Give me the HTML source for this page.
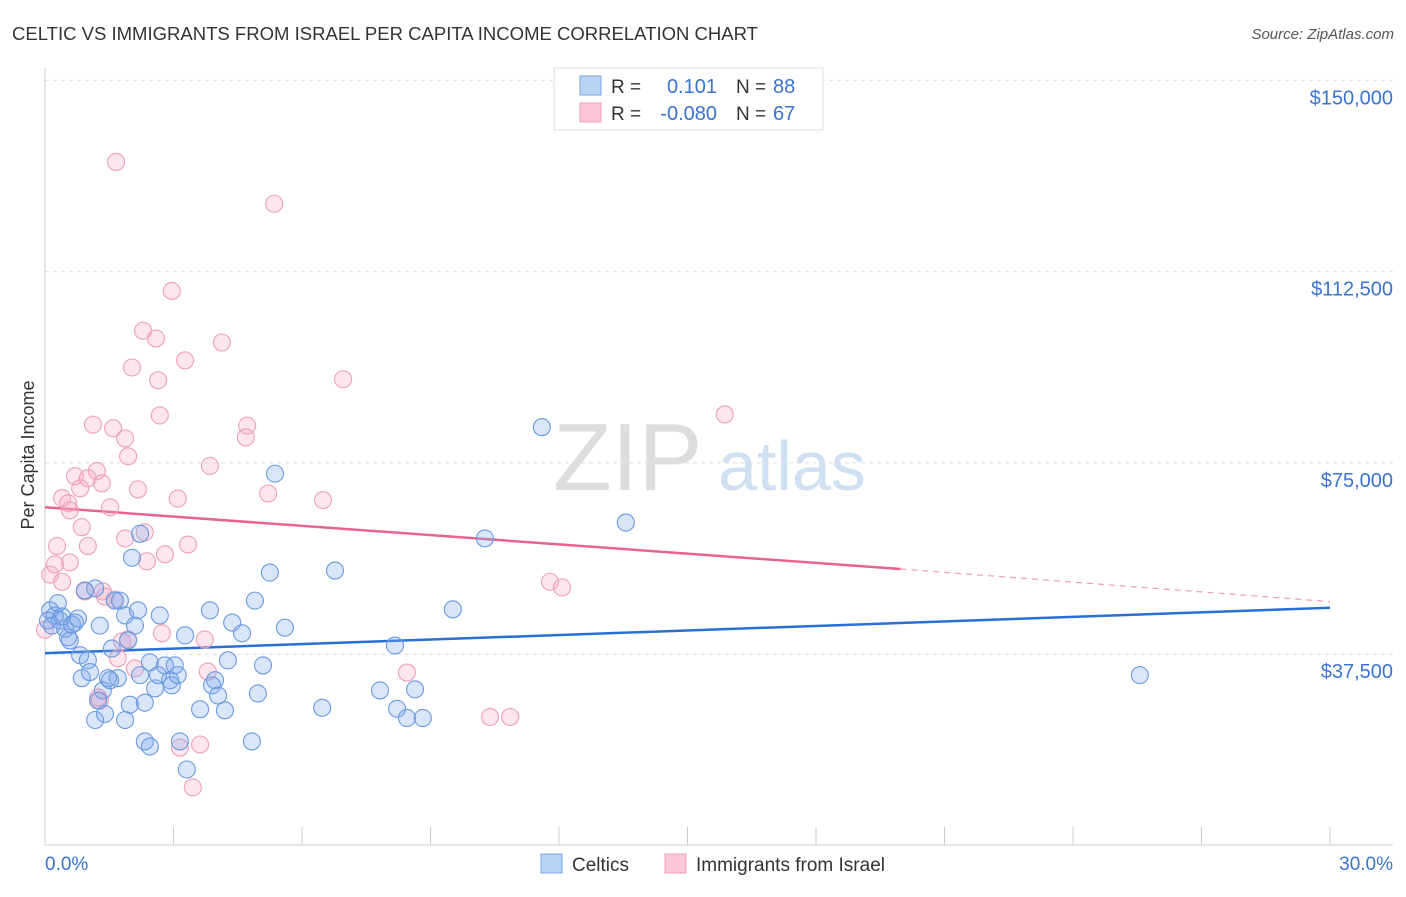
<!DOCTYPE html>
<html><head><meta charset="utf-8"><style>
body{margin:0;background:#fff;font-family:"Liberation Sans",sans-serif;}
svg text{font-family:"Liberation Sans",sans-serif;}
</style></head><body>
<svg id="chart" width="1406" height="892" xmlns="http://www.w3.org/2000/svg">
<text x="12" y="40" font-size="18" fill="#333" textLength="746" lengthAdjust="spacingAndGlyphs">CELTIC VS IMMIGRANTS FROM ISRAEL PER CAPITA INCOME CORRELATION CHART</text>
<text x="1394" y="39" font-size="15" fill="#555" font-style="italic" text-anchor="end">Source: ZipAtlas.com</text>
<g>
<text x="553" y="490" font-size="96" fill="#ddd" font-family="Liberation Serif">ZIP</text>
<text x="718" y="490" font-size="70" fill="#cfe0f3">atlas</text>
</g>
<g id="grid"></g>
<g id="axes"></g>
<g id="lines"></g>
<g id="pts"></g>
<text x="34" y="455" font-size="18" fill="#333" text-anchor="middle" transform="rotate(-90 34 455)">Per Capita Income</text>
<g>
<rect x="554" y="68" width="269" height="62" fill="#fff" stroke="#ddd"/>
<rect x="580" y="76" width="21" height="19" fill="#b9d3f5" stroke="#7aa5e6"/>
<rect x="580" y="103" width="21" height="19" fill="#fcc6d6" stroke="#eda0b8"/>
<text x="611" y="93" font-size="19" fill="#333">R =</text>
<text x="717" y="93" font-size="20" fill="#3a73d0" text-anchor="end">0.101</text>
<text x="736" y="93" font-size="19" fill="#333">N =</text>
<text x="773" y="93" font-size="20" fill="#3a73d0">88</text>
<text x="611" y="120" font-size="19" fill="#333">R =</text>
<text x="717" y="120" font-size="20" fill="#3a73d0" text-anchor="end">-0.080</text>
<text x="736" y="120" font-size="19" fill="#333">N =</text>
<text x="773" y="120" font-size="20" fill="#3a73d0">67</text>
</g>
<g>
<rect x="541" y="854" width="21" height="19" fill="#b9d3f5" stroke="#7aa5e6"/>
<text x="572" y="871" font-size="19" fill="#333">Celtics</text>
<rect x="665" y="854" width="21" height="19" fill="#fcc6d6" stroke="#eda0b8"/>
<text x="696" y="871" font-size="19" fill="#333">Immigrants from Israel</text>
</g>
</svg>
<script>
const yTicks=[37500,75000,112500,150000];
const yTickLabels=["$37,500","$75,000","$112,500","$150,000"];
const xTickLabels=["0.0%","30.0%"];
const celticsX=[0.12,0.23,0.35,0.16,0.47,0.58,0.70,0.82,0.86,1.00,1.05,1.17,0.93,1.28,1.35,1.47,1.56,1.63,1.70,1.87,1.94,1.98,2.10,2.22,2.33,2.45,2.57,2.68,2.80,2.92,2.96,3.03,3.10,2.64,2.33,2.45,2.03,2.22,3.27,3.15,3.31,3.62,3.85,3.90,3.97,4.04,4.20,4.27,4.37,4.60,4.90,4.97,5.09,4.83,5.25,5.60,5.37,6.47,6.77,7.82,8.17,8.22,8.45,8.64,8.82,9.52,10.27,11.60,13.56,25.56,1.17,1.40,1.87,0.30,0.40,0.54,0.63,0.77,0.07,1.52,1.24,1.75,2.17];
const celticsY=[46100,45100,44100,43100,42500,40200,43700,37300,32800,36300,34000,50400,50000,43100,30400,32800,38600,48000,32800,45100,40200,27600,43100,33400,28000,35900,30800,45100,35300,32400,31400,35300,33400,33400,20400,19400,56400,61100,41200,20400,14900,26700,46100,31400,32400,29400,26500,36300,43700,41600,48000,29800,35300,20400,53500,42700,72900,27000,53900,30400,39200,26800,25000,30600,25000,46300,60200,82000,63300,33400,24600,25800,24600,47500,44900,40800,43300,44500,44100,32400,28400,48000,46100];
const israelX=[1.66,5.35,2.96,2.29,2.59,4.13,3.27,2.03,2.64,6.96,2.68,4.72,4.69,1.12,1.59,1.87,1.94,3.85,1.21,0.70,1.00,1.33,0.82,2.17,3.10,0.40,0.54,1.52,0.58,5.21,6.49,0.86,1.87,2.33,0.28,1.00,3.34,2.80,2.38,0.58,0.23,0.12,0.40,1.40,0.93,1.35,1.63,1.80,1.94,2.73,3.73,1.70,2.10,3.80,8.45,1.28,1.24,3.15,3.62,3.45,10.39,10.86,15.87,11.79,12.07,0.00];
const israelY=[134000,125800,108700,100900,99400,98600,95100,93700,91200,91400,84300,82300,80000,82500,81800,79800,76300,74400,73400,72400,72000,71000,70000,69800,68000,68100,67100,66300,65700,69000,67700,62400,60200,61400,58700,58700,59000,57100,55700,55500,55100,53100,51700,48800,49800,49800,48200,40000,40400,41600,40400,36700,34700,34100,33900,28400,29000,19200,19800,11400,25200,25200,84500,51700,50600,42300];
const celticsFit=[37700,46600];
const israelFit=[66300,54200,47800];
const israelFitSolidEnd=19.97;
const NS="http://www.w3.org/2000/svg";
const X=v=>45+v/30*1285, Y=v=>845.5-v/37500*191.3;
function mk(t,a,parent){const e=document.createElementNS(NS,t);for(const k in a)e.setAttribute(k,a[k]);document.getElementById(parent).appendChild(e);return e;}
yTicks.forEach((t,i)=>{
 const g=mk('line',{x1:45,x2:1393,y1:Y(t),y2:Y(t),stroke:'#ddd','stroke-dasharray':'4,4'},'grid');
 
 
 const l=mk('text',{x:1393,y:Y(t)+24,'font-size':20,fill:'#3a73d0','text-anchor':'end'},'axes');
 l.textContent=yTickLabels[i];
 
 
});
const ax=mk('line',{x1:45,x2:45,y1:68,y2:845,stroke:'#ccc'},'axes');


const bx=mk('line',{x1:45,x2:1393,y1:845,y2:845,stroke:'#ccc'},'axes');


for(let i=0;i<=10;i++){const t=mk('line',{x1:X(i*3),x2:X(i*3),y1:827,y2:845,stroke:'#ccc'},'axes');
 
 }
[[0,45,'start'],[30,1393,'end']].forEach((d,i)=>{const l=mk('text',{x:d[1],y:870,'font-size':19,fill:'#3a73d0','text-anchor':d[2]},'axes');
 l.textContent=xTickLabels[i];
 
 });
function dots(xs,ys,fill,stroke,name){xs.forEach((x,i)=>{const c=mk('circle',{cx:X(x),cy:Y(ys[i]),r:8.5,fill:fill,stroke:stroke,'stroke-width':1.1},'pts');
 
 });}
dots(israelX,israelY,'rgba(248,170,195,0.3)','#eda0b8','israel-point');
dots(celticsX,celticsY,'rgba(130,170,235,0.3)','#6a9ae0','celtics-point');
const bl=mk('line',{x1:X(0),y1:Y(celticsFit[0]),x2:X(30),y2:Y(celticsFit[1]),stroke:'#2a6fd6','stroke-width':2.5},'lines');


const pl=mk('line',{x1:X(0),y1:Y(israelFit[0]),x2:X(israelFitSolidEnd),y2:Y(israelFit[1]),stroke:'#e8648f','stroke-width':2.5},'lines');


const pd=mk('line',{x1:X(israelFitSolidEnd),y1:Y(israelFit[1]),x2:X(30),y2:Y(israelFit[2]),stroke:'#e8a0b8','stroke-width':1.2,'stroke-dasharray':'6,5'},'lines');


</script>
</body></html>
